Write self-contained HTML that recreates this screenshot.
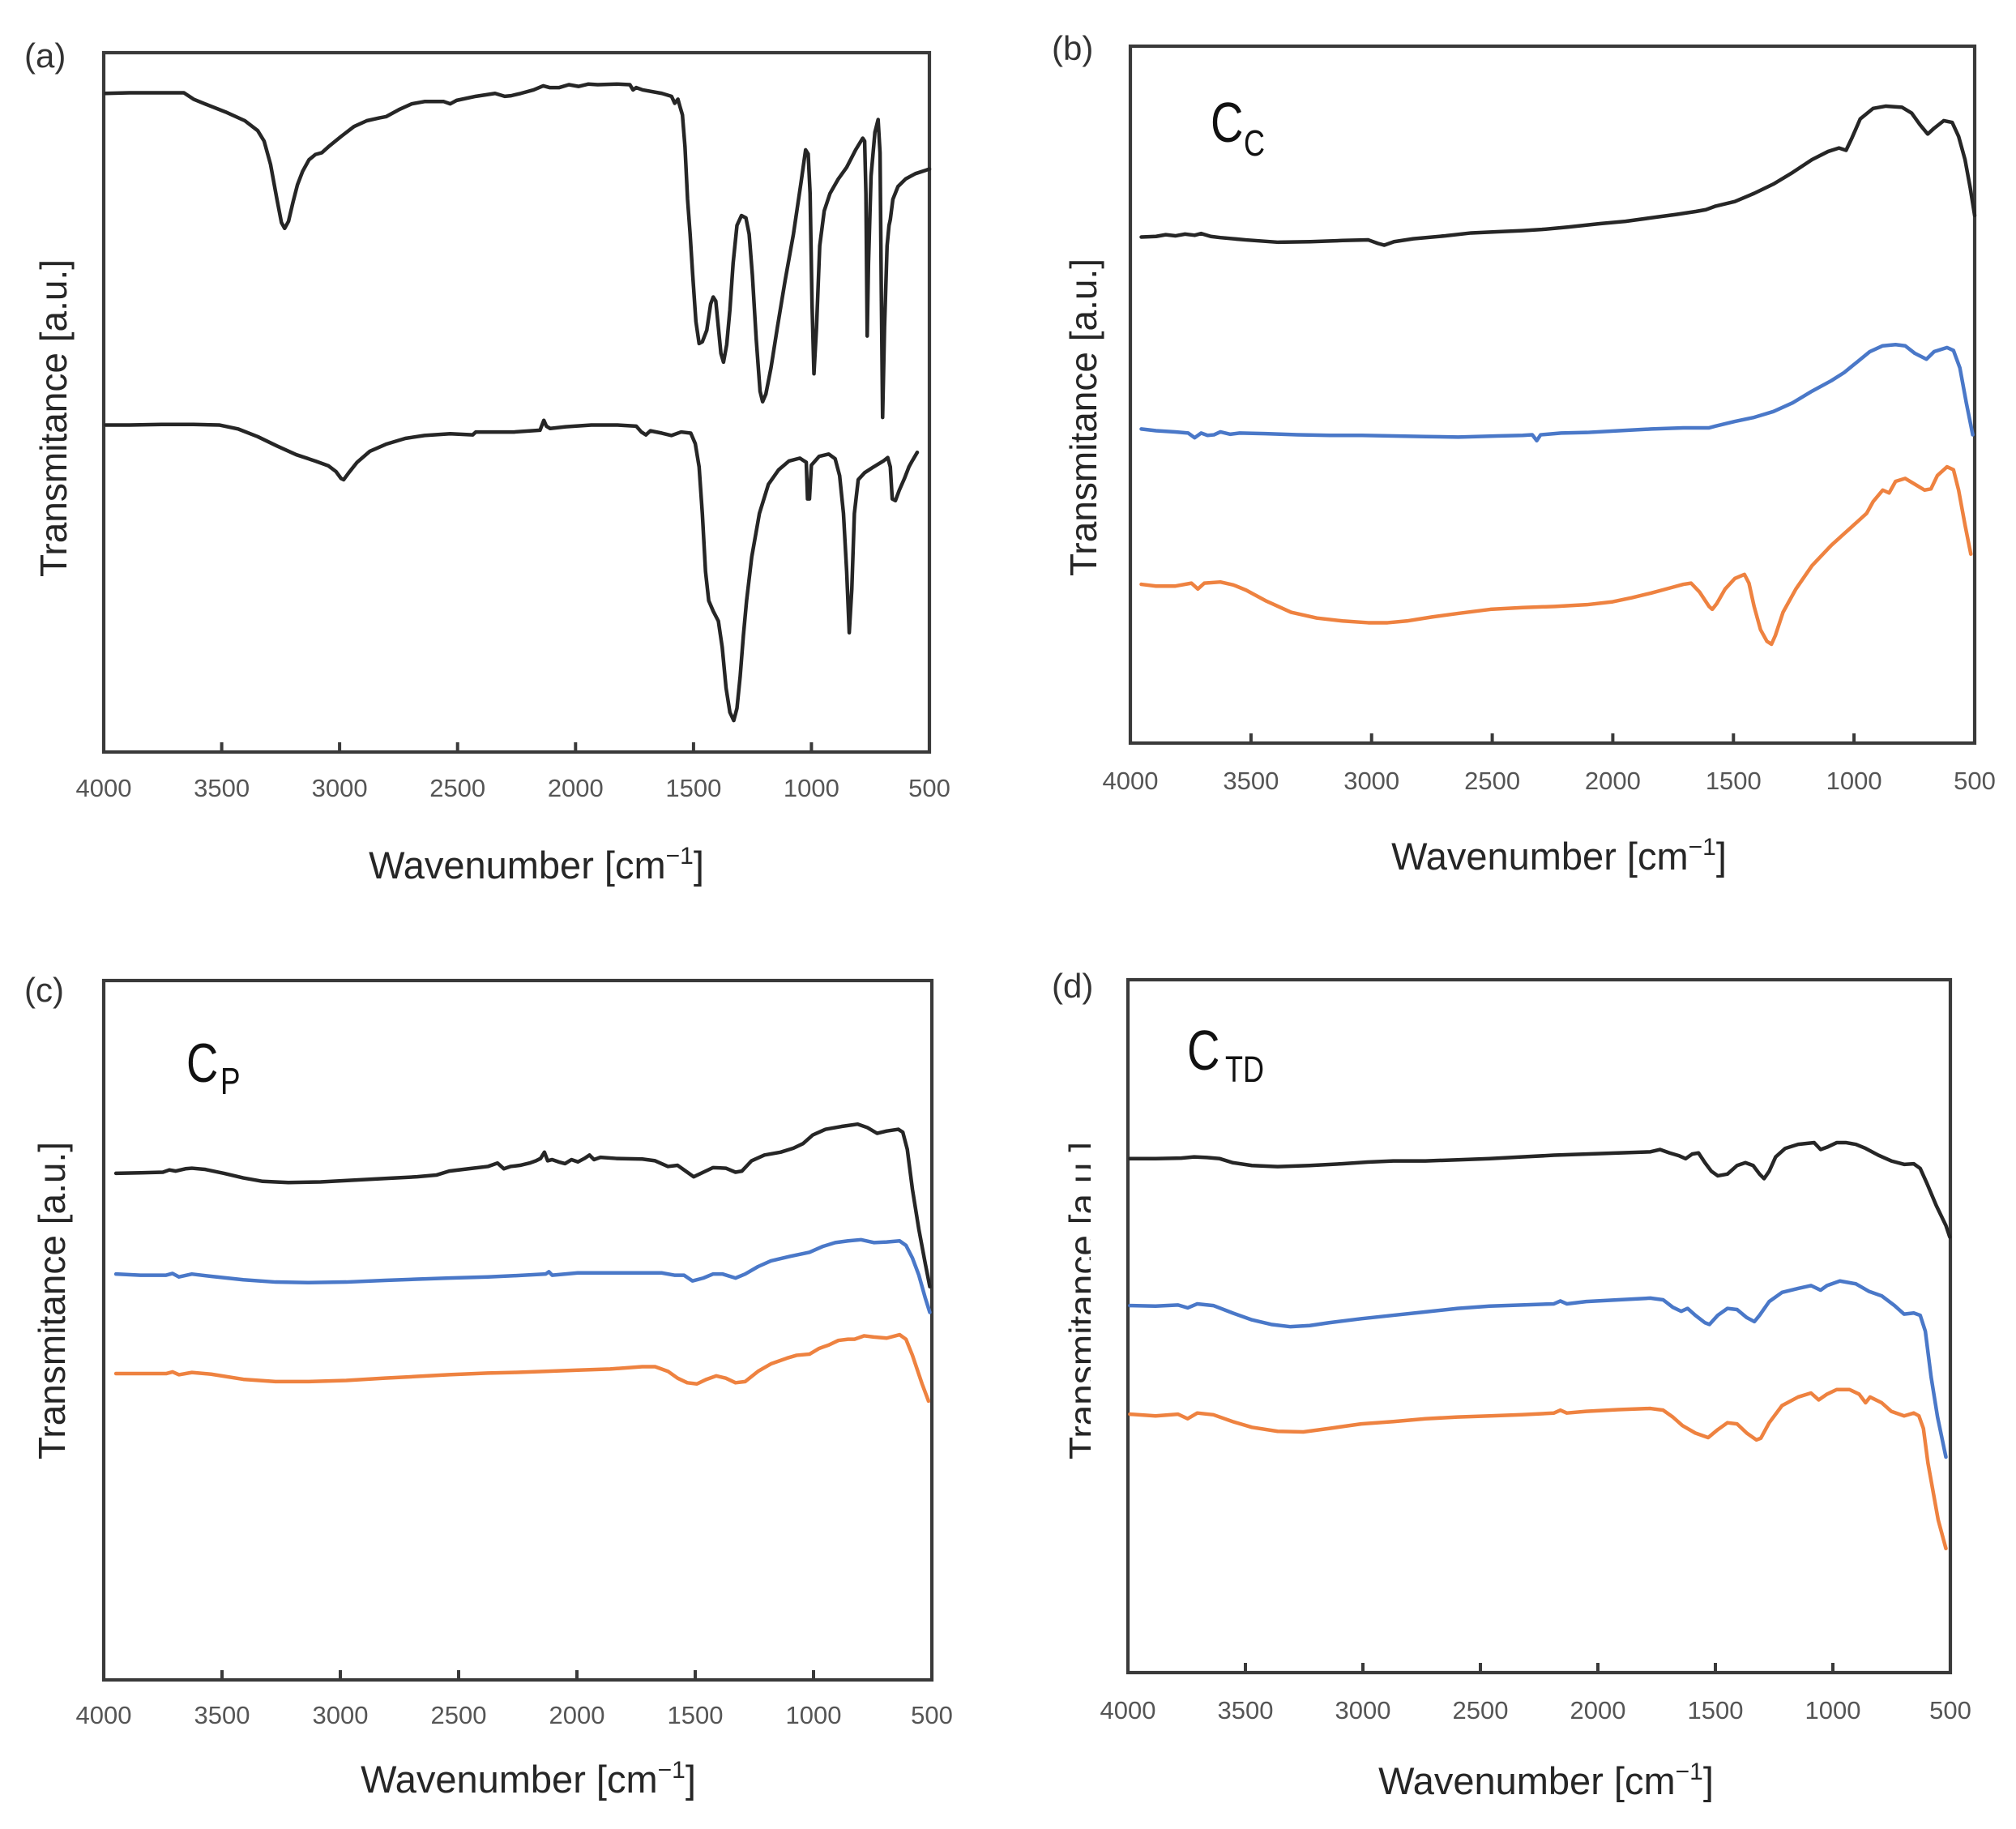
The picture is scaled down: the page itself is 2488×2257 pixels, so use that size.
<!DOCTYPE html>
<html>
<head>
<meta charset="utf-8">
<style>
html,body{margin:0;padding:0;background:#fff;}
svg{display:block;}
text{font-family:"Liberation Sans",Arial,sans-serif;}
.tick{font-size:31px;fill:#555;text-anchor:middle;}
.ttl{font-size:47px;fill:#262626;text-anchor:middle;}
.yl{font-size:46px;fill:#262626;text-anchor:middle;}
.pl{font-size:42px;fill:#333;}
.box{fill:none;stroke:#3a3a3a;stroke-width:4.2;}
.tk{stroke:#3a3a3a;stroke-width:4;}
.c{fill:none;stroke-width:4.5;stroke-linejoin:round;stroke-linecap:round;}
.k{stroke:#262626;}
.b{stroke:#4a78c8;}
.o{stroke:#ee8240;}
</style>
</head>
<body>
<svg width="2488" height="2257" viewBox="0 0 2488 2257" xmlns="http://www.w3.org/2000/svg">
<defs>
<clipPath id="dclip"><rect x="1280" y="1350" width="66" height="500"/></clipPath>
</defs>

<!-- ================= Panel (a) ================= -->
<text class="pl" x="30" y="83">(a)</text>
<rect class="box" x="128" y="65" width="1019" height="863"/>
<g class="tk">
<line x1="273.6" y1="928" x2="273.6" y2="916"/><line x1="419.1" y1="928" x2="419.1" y2="916"/>
<line x1="564.7" y1="928" x2="564.7" y2="916"/><line x1="710.3" y1="928" x2="710.3" y2="916"/>
<line x1="855.9" y1="928" x2="855.9" y2="916"/><line x1="1001.4" y1="928" x2="1001.4" y2="916"/>
</g>
<g class="tick">
<text x="128" y="983">4000</text><text x="273.6" y="983">3500</text><text x="419.1" y="983">3000</text>
<text x="564.7" y="983">2500</text><text x="710.3" y="983">2000</text><text x="855.9" y="983">1500</text>
<text x="1001.4" y="983">1000</text><text x="1147" y="983">500</text>
</g>
<text class="ttl" x="662" y="1084">Wavenumber [cm<tspan font-size="30" dy="-18">−1</tspan><tspan dy="18">]</tspan></text>
<text class="yl" transform="translate(82,516) rotate(-90)">Transmitance [a.u.]</text>
<g transform="translate(128,65) scale(0.7918,0.7179) translate(-160,-88)">
<path class="c k" vector-effect="non-scaling-stroke" d="M163,158 L200,157 L250,157 L285,157 L300,168 L320,177 L350,190 L380,205 L400,222 L410,240 L420,280 L430,340 L437,380 L442,390 L448,378 L455,345 L462,315 L470,292 L480,272 L490,263 L500,260 L510,250 L530,232 L550,215 L570,205 L590,200 L600,198 L620,186 L640,176 L660,172 L690,172 L700,176 L710,170 L740,163 L770,158 L785,163 L795,162 L810,158 L830,152 L845,145 L855,148 L870,148 L885,143 L900,146 L915,142 L930,143 L960,142 L980,143 L985,152 L990,148 L1000,152 L1030,158 L1045,163 L1050,175 L1055,168 L1058,180 L1062,195 L1066,250 L1070,340 L1074,400 L1078,470 L1083,550 L1088,588 L1093,585 L1100,565 L1106,520 L1110,508 L1114,515 L1118,560 L1122,605 L1126,620 L1131,590 L1136,530 L1141,450 L1147,385 L1154,368 L1161,372 L1166,400 L1171,470 L1177,580 L1183,670 L1187,688 L1192,675 L1200,630 L1210,560 L1222,480 L1235,400 L1247,310 L1254,255 L1258,262 L1261,330 L1264,520 L1267,640 L1271,560 L1276,420 L1283,360 L1292,330 L1305,305 L1318,285 L1332,255 L1343,235 L1346,240 L1348,330 L1350,575 L1352,450 L1356,300 L1362,225 L1367,203 L1370,260 L1372,500 L1374,715 L1377,560 L1381,420 L1384,385 L1386,375 L1390,340 L1398,318 L1410,305 L1425,296 L1447,288"/>
<path class="c k" vector-effect="non-scaling-stroke" d="M163,728 L200,728 L250,727 L300,727 L340,728 L370,735 L400,748 L430,764 L460,779 L490,790 L510,798 L522,808 L530,820 L534,822 L542,810 L555,792 L575,773 L600,761 L630,751 L660,746 L700,743 L735,745 L740,740 L760,740 L800,740 L840,737 L846,720 L850,730 L856,734 L880,731 L920,728 L960,728 L990,730 L998,740 L1005,745 L1012,738 L1030,742 L1045,746 L1060,740 L1075,742 L1082,760 L1088,800 L1093,880 L1098,980 L1103,1030 L1110,1048 L1118,1065 L1124,1110 L1130,1180 L1136,1222 L1142,1236 L1147,1215 L1152,1160 L1157,1090 L1162,1030 L1170,955 L1182,880 L1196,830 L1212,805 L1228,790 L1245,785 L1252,790 L1255,792 L1257,855 L1260,855 L1263,797 L1275,782 L1290,778 L1300,786 L1307,815 L1313,880 L1318,980 L1322,1085 L1326,1010 L1330,880 L1336,822 L1346,810 L1360,800 L1375,790 L1382,784 L1386,800 L1389,855 L1394,858 L1400,840 L1408,820 L1415,800 L1420,790 L1428,775"/>
</g>

<!-- ================= Panel (b) ================= -->
<text class="pl" x="1298" y="74">(b)</text>
<rect class="box" x="1395" y="57" width="1042" height="860"/>
<g class="tk">
<line x1="1543.9" y1="917" x2="1543.9" y2="905"/><line x1="1692.7" y1="917" x2="1692.7" y2="905"/>
<line x1="1841.6" y1="917" x2="1841.6" y2="905"/><line x1="1990.4" y1="917" x2="1990.4" y2="905"/>
<line x1="2139.3" y1="917" x2="2139.3" y2="905"/><line x1="2288.1" y1="917" x2="2288.1" y2="905"/>
</g>
<g class="tick">
<text x="1395" y="974">4000</text><text x="1543.9" y="974">3500</text><text x="1692.7" y="974">3000</text>
<text x="1841.6" y="974">2500</text><text x="1990.4" y="974">2000</text><text x="2139.3" y="974">1500</text>
<text x="2288.1" y="974">1000</text><text x="2437" y="974">500</text>
</g>
<text class="ttl" x="1924" y="1073">Wavenumber [cm<tspan font-size="30" dy="-18">−1</tspan><tspan dy="18">]</tspan></text>
<text class="yl" transform="translate(1353,515) rotate(-90)">Transmitance [a.u.]</text>
<text transform="translate(1494,175) scale(0.8,1)" font-size="70" fill="#111">C</text>
<text transform="translate(1535,192) scale(0.8,1)" font-size="45" fill="#111">C</text>
<g transform="translate(1395,57) scale(0.7936,0.7179) translate(-190,-77)">
<path class="c k" vector-effect="non-scaling-stroke" d="M207,405 L230,404 L245,401 L260,403 L275,400 L290,402 L300,399 L315,404 L330,406 L370,410 L420,414 L470,413 L520,411 L560,410 L575,416 L585,419 L600,413 L630,408 L680,403 L720,398 L760,396 L800,394 L830,392 L870,388 L920,382 L960,378 L1000,372 L1040,366 L1070,361 L1085,358 L1100,352 L1130,344 L1160,330 L1190,314 L1220,294 L1250,272 L1275,258 L1292,252 L1303,256 L1312,235 L1325,202 L1345,184 L1365,180 L1390,182 L1405,192 L1418,212 L1430,228 L1440,218 L1455,205 L1468,208 L1478,232 L1488,272 L1496,320 L1503,368"/>
<path class="c b" vector-effect="non-scaling-stroke" d="M207,735 L230,738 L260,740 L280,742 L290,750 L300,742 L310,746 L320,745 L330,740 L345,744 L360,742 L400,743 L450,745 L500,746 L550,746 L600,747 L650,748 L700,749 L760,747 L800,746 L815,745 L822,755 L828,745 L860,742 L900,741 L950,738 L1000,735 L1050,733 L1090,733 L1100,730 L1130,722 L1160,715 L1190,705 L1220,690 L1250,670 L1280,652 L1300,638 L1320,620 L1340,602 L1360,592 L1380,590 L1395,592 L1410,605 L1428,615 L1440,602 L1460,595 L1470,600 L1480,630 L1490,690 L1500,745"/>
<path class="c o" vector-effect="non-scaling-stroke" d="M207,1002 L230,1005 L260,1005 L285,1000 L295,1010 L305,1000 L330,998 L350,1003 L370,1012 L400,1030 L440,1050 L480,1060 L520,1065 L560,1068 L590,1068 L620,1065 L660,1058 L700,1052 L750,1045 L800,1042 L850,1040 L900,1037 L940,1032 L970,1025 L1000,1017 L1030,1008 L1050,1002 L1062,1000 L1075,1015 L1090,1040 L1095,1045 L1102,1035 L1115,1010 L1130,992 L1145,985 L1152,1000 L1160,1040 L1170,1080 L1180,1100 L1187,1105 L1193,1090 L1205,1050 L1225,1010 L1250,970 L1280,935 L1300,915 L1310,905 L1320,895 L1335,880 L1345,860 L1360,840 L1370,845 L1380,825 L1395,820 L1410,830 L1425,840 L1435,838 L1445,815 L1460,800 L1470,805 L1478,840 L1488,900 L1497,950"/>
</g>

<!-- ================= Panel (c) ================= -->
<text class="pl" x="30" y="1236">(c)</text>
<rect class="box" x="128" y="1210" width="1022" height="863"/>
<g class="tk">
<line x1="274" y1="2073" x2="274" y2="2061"/><line x1="420" y1="2073" x2="420" y2="2061"/>
<line x1="566" y1="2073" x2="566" y2="2061"/><line x1="712" y1="2073" x2="712" y2="2061"/>
<line x1="858" y1="2073" x2="858" y2="2061"/><line x1="1004" y1="2073" x2="1004" y2="2061"/>
</g>
<g class="tick">
<text x="128" y="2127">4000</text><text x="274" y="2127">3500</text><text x="420" y="2127">3000</text>
<text x="566" y="2127">2500</text><text x="712" y="2127">2000</text><text x="858" y="2127">1500</text>
<text x="1004" y="2127">1000</text><text x="1150" y="2127">500</text>
</g>
<text class="ttl" x="652" y="2212">Wavenumber [cm<tspan font-size="30" dy="-18">−1</tspan><tspan dy="18">]</tspan></text>
<text class="yl" transform="translate(80,1605) rotate(-90)">Transmitance [a.u.]</text>
<text transform="translate(230,1335) scale(0.8,1)" font-size="68" fill="#111">C</text>
<text transform="translate(272,1350) scale(0.8,1)" font-size="46" fill="#111">P</text>
<g transform="translate(128,1210) scale(0.794,0.706) translate(-163,-85)">
<path class="c k" vector-effect="non-scaling-stroke" d="M182,422 L220,421 L255,420 L265,416 L275,418 L290,414 L300,413 L320,415 L350,422 L380,430 L410,436 L450,438 L500,437 L550,434 L600,431 L650,428 L680,425 L700,418 L730,414 L760,410 L775,404 L785,414 L795,410 L810,408 L825,404 L835,400 L842,396 L848,385 L853,400 L860,398 L870,402 L880,405 L890,398 L900,402 L910,396 L918,390 L925,398 L935,394 L960,396 L1000,397 L1020,400 L1040,410 L1055,408 L1070,420 L1080,428 L1095,420 L1110,412 L1130,413 L1145,420 L1155,418 L1170,400 L1190,390 L1215,385 L1235,378 L1250,370 L1265,355 L1285,345 L1310,340 L1335,336 L1350,342 L1365,352 L1380,348 L1398,345 L1405,350 L1412,380 L1420,450 L1430,520 L1440,580 L1447,620"/>
<path class="c b" vector-effect="non-scaling-stroke" d="M182,598 L220,600 L260,600 L270,597 L280,603 L300,598 L330,602 L380,608 L430,612 L480,613 L540,612 L600,609 L650,607 L700,605 L760,603 L800,601 L850,598 L855,594 L860,600 L900,596 L950,596 L1000,596 L1030,596 L1050,600 L1065,600 L1078,610 L1095,605 L1110,598 L1125,598 L1145,605 L1160,598 L1180,585 L1200,575 L1230,567 L1260,560 L1280,550 L1300,543 L1320,540 L1340,538 L1360,543 L1380,542 L1400,540 L1410,548 L1420,570 L1430,600 L1440,640 L1447,665"/>
<path class="c o" vector-effect="non-scaling-stroke" d="M182,772 L220,772 L260,772 L270,769 L280,774 L300,770 L330,773 L380,782 L430,786 L480,786 L540,784 L600,780 L650,777 L700,774 L760,771 L800,770 L850,768 L900,766 L950,764 L1000,760 L1020,760 L1040,768 L1055,780 L1070,788 L1085,790 L1100,782 L1115,776 L1130,780 L1145,788 L1160,786 L1180,768 L1200,755 L1225,745 L1240,740 L1260,738 L1275,728 L1290,722 L1305,714 L1320,712 L1330,712 L1345,706 L1360,708 L1380,710 L1400,704 L1410,712 L1420,740 L1435,790 L1445,820"/>
</g>

<!-- ================= Panel (d) ================= -->
<text class="pl" x="1298" y="1231">(d)</text>
<rect class="box" x="1392" y="1209" width="1015" height="855"/>
<g class="tk">
<line x1="1537" y1="2064" x2="1537" y2="2052"/><line x1="1682" y1="2064" x2="1682" y2="2052"/>
<line x1="1827" y1="2064" x2="1827" y2="2052"/><line x1="1972" y1="2064" x2="1972" y2="2052"/>
<line x1="2117" y1="2064" x2="2117" y2="2052"/><line x1="2262" y1="2064" x2="2262" y2="2052"/>
</g>
<g class="tick">
<text x="1392" y="2121">4000</text><text x="1537" y="2121">3500</text><text x="1682" y="2121">3000</text>
<text x="1827" y="2121">2500</text><text x="1972" y="2121">2000</text><text x="2117" y="2121">1500</text>
<text x="2262" y="2121">1000</text><text x="2407" y="2121">500</text>
</g>
<text class="ttl" x="1908" y="2214">Wavenumber [cm<tspan font-size="30" dy="-18">−1</tspan><tspan dy="18">]</tspan></text>
<g clip-path="url(#dclip)">
<text class="yl" transform="translate(1352,1605) rotate(-90)">Transmitance [a.u.]</text>
</g>
<text transform="translate(1465,1320) scale(0.8,1)" font-size="70" fill="#111">C</text>
<text transform="translate(1512,1335) scale(0.8,1)" font-size="45" fill="#111">TD</text>
<g transform="translate(1392,1209) scale(0.793,0.7054) translate(-187,-85)">
<path class="c k" vector-effect="non-scaling-stroke" d="M190,398 L230,398 L270,397 L290,395 L310,396 L330,398 L350,405 L380,410 L420,412 L470,410 L520,407 L560,404 L600,402 L650,402 L700,400 L750,398 L800,395 L850,392 L900,390 L950,388 L1000,386 L1015,382 L1030,388 L1045,393 L1055,398 L1065,390 L1075,388 L1085,405 L1095,420 L1105,428 L1120,425 L1135,410 L1148,405 L1160,410 L1170,425 L1177,433 L1185,420 L1195,395 L1210,380 L1230,373 L1255,370 L1265,382 L1275,378 L1290,370 L1305,370 L1320,373 L1335,380 L1355,392 L1375,402 L1395,408 L1410,407 L1420,415 L1430,440 L1445,480 L1460,515 L1466,535"/>
<path class="c b" vector-effect="non-scaling-stroke" d="M190,655 L230,656 L265,654 L280,659 L295,652 L320,655 L350,668 L380,680 L410,688 L440,692 L470,690 L500,685 L550,678 L600,672 L650,666 L700,660 L750,656 L800,654 L850,652 L860,647 L870,652 L900,648 L950,645 L1000,642 L1020,645 L1035,658 L1048,665 L1058,660 L1070,672 L1085,685 L1092,688 L1105,672 L1120,660 L1135,662 L1150,676 L1162,683 L1170,672 L1185,648 L1205,632 L1230,625 L1250,620 L1265,628 L1275,620 L1295,612 L1320,617 L1340,630 L1360,638 L1380,655 L1395,670 L1410,668 L1420,672 L1428,700 L1437,780 L1447,850 L1460,920"/>
<path class="c o" vector-effect="non-scaling-stroke" d="M190,845 L230,848 L265,845 L280,853 L295,843 L320,846 L350,858 L380,868 L420,875 L460,876 L500,870 L550,862 L600,858 L650,853 L700,850 L750,848 L800,846 L850,843 L860,838 L870,843 L900,840 L950,837 L1000,835 L1020,838 L1035,850 L1050,865 L1070,878 L1090,886 L1105,872 L1120,860 L1135,862 L1150,878 L1165,890 L1172,887 L1185,860 L1205,830 L1230,815 L1250,808 L1262,820 L1275,810 L1290,802 L1310,802 L1325,810 L1335,825 L1342,815 L1360,825 L1375,840 L1395,848 L1410,843 L1418,848 L1425,870 L1432,930 L1440,980 L1448,1030 L1460,1080"/>
</g>
</svg>
</body>
</html>
